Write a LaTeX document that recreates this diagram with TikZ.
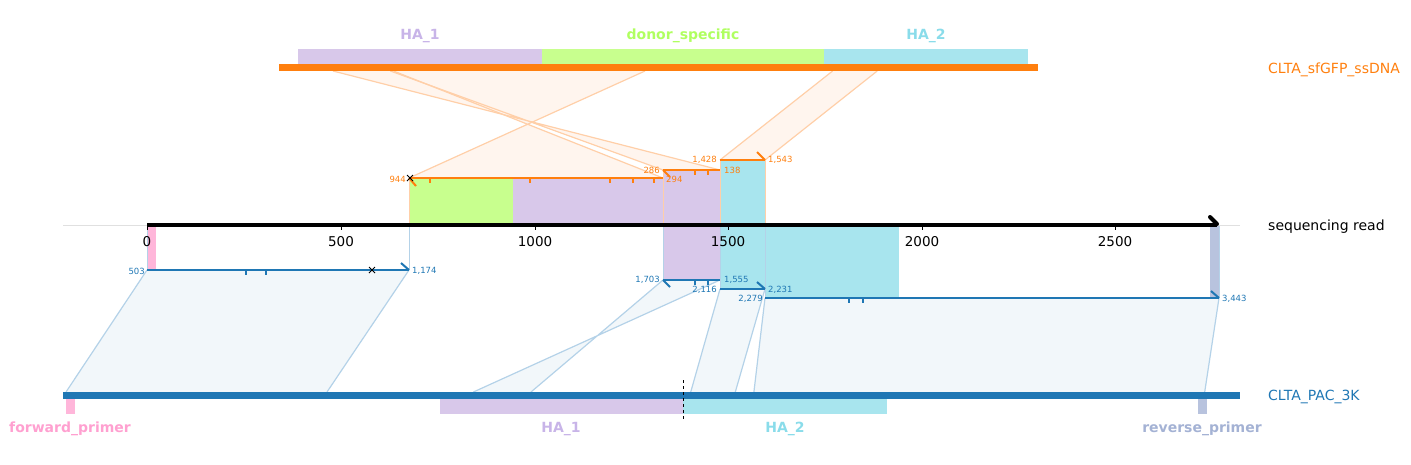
\documentclass[tikz,border=0pt]{standalone}
\usepackage{fontspec}
\setmainfont{DejaVu Sans}
\definecolor{orng}{HTML}{FF7F0E}
\definecolor{blu}{HTML}{1F77B4}
\definecolor{haone}{HTML}{D8C8EA}
\definecolor{haonet}{HTML}{C8B4E8}
\definecolor{donor}{HTML}{C8FF8E}
\definecolor{donort}{HTML}{B0FF60}
\definecolor{hatwo}{HTML}{A8E5EE}
\definecolor{hatwot}{HTML}{8ADCEA}
\definecolor{fwd}{HTML}{FFB6DA}
\definecolor{fwdt}{HTML}{FFA0D0}
\definecolor{rev}{HTML}{B8C3DE}
\definecolor{revt}{HTML}{A4B2D4}
\definecolor{opoly}{HTML}{FFF5EE}
\definecolor{oedge}{HTML}{FFCFA8}
\definecolor{bpoly}{HTML}{F2F7FA}
\definecolor{bedge}{HTML}{B4D2E8}
\begin{document}
\begin{tikzpicture}[x=1pt,y=-1pt,
  oaln/.style={draw=orng,line width=2pt},
  baln/.style={draw=blu,line width=2pt},
  otick/.style={draw=orng,line width=1.5pt},
  btick/.style={draw=blu,line width=1.5pt},
  smalllab/.style={font=\fontsize{8.5}{8.5}\selectfont,inner sep=0pt},
  featlab/.style={font=\bfseries\fontsize{14}{14}\selectfont,inner sep=0pt},
  ticklab/.style={font=\fontsize{13.5}{13.5}\selectfont,inner sep=0pt},
  sidelab/.style={font=\fontsize{14}{14}\selectfont,inner sep=0pt,anchor=west},
  xmark/.style={draw=black,line width=1pt}
]
\useasboundingbox (0,0) rectangle (1411,464);
% ---- connection polygons (ssDNA) ----
\fill[opoly] (393.5,71) -- (645,71) -- (409,178) -- (663,178) -- cycle;
\fill[opoly] (333,71) -- (390.4,71) -- (663,170) -- (720,170) -- cycle;
\fill[opoly] (832.6,71) -- (877.2,71) -- (765,160) -- (720,160) -- cycle;
\draw[oedge,line width=1.2pt] (645,71) -- (409,178) (393.5,71) -- (663,178);
\draw[oedge,line width=1.2pt] (390.4,71) -- (663,170) (333,71) -- (720,170);
\draw[oedge,line width=1.2pt] (832.6,71) -- (720,160) (877.2,71) -- (765,160);
% ---- connection polygons (PAC) ----
\fill[bpoly] (147,270) -- (409,270) -- (327,392) -- (66,392) -- cycle;
\fill[bpoly] (663,280) -- (720,280) -- (473.4,392) -- (531,392) -- cycle;
\fill[bpoly] (720,289) -- (765,289) -- (735.3,392) -- (690.7,392) -- cycle;
\fill[bpoly] (765,298) -- (1219,298) -- (1204.7,392) -- (753.9,392) -- cycle;
\draw[bedge,line width=1.2pt] (147,270) -- (66,392) (409,270) -- (327,392);
\draw[bedge,line width=1.2pt] (663,280) -- (531,392) (720,280) -- (473.4,392);
\draw[bedge,line width=1.2pt] (720,289) -- (690.7,392) (765,289) -- (735.3,392);
\draw[bedge,line width=1.2pt] (765,298) -- (753.9,392) (1219,298) -- (1204.7,392);
% ---- feature fills on the read ----
\fill[donor] (409,178) rectangle (513,225);
\fill[haone] (513,178) rectangle (663,225);
\fill[haone] (663,170) rectangle (720,225);
\fill[hatwo] (720,160) rectangle (765,225);
\fill[fwd] (147,225) rectangle (156,270);
\fill[haone] (663,225) rectangle (720,280);
\fill[hatwo] (720,225) rectangle (765,289);
\fill[hatwo] (765,225) rectangle (899,298);
\fill[rev] (1210,225) rectangle (1219,298);
% faint edges of aligned spans
\draw[oedge,line width=0.8pt] (409,178) -- (409,225) (663,170) -- (663,225) (720,160) -- (720,225) (765,160) -- (765,225);
\draw[bedge,line width=0.8pt] (147,225) -- (147,270) (409,225) -- (409,270) (663,225) -- (663,280) (720,225) -- (720,289) (765,225) -- (765,298) (1219,225) -- (1219,298);
% ---- ssDNA reference ----
\fill[haone] (298,49) rectangle (542,64);
\fill[donor] (542,49) rectangle (824,64);
\fill[hatwo] (824,49) rectangle (1028,64);
\fill[orng] (279,64) rectangle (1038,71);
\node[featlab,text=haonet] (lHAa) at (420,36) {HA\_1};
\node[featlab,text=donort] (ldonor) at (683,36) {donor\_specific};
\node[featlab,text=hatwot] (lHAb) at (926,36) {HA\_2};
% ---- PAC reference ----
\fill[blu] (63,392) rectangle (1240,399);
\fill[fwd] (66,399) rectangle (75,414);
\fill[haone] (440,399) rectangle (683,414);
\fill[hatwo] (683,399) rectangle (887,414);
\fill[rev] (1198,399) rectangle (1207,414);
\draw[black,dashed,line width=1pt] (683,380) -- (683,419);
\node[featlab,text=fwdt] (lfwd) at (70,429) {forward\_primer};
\node[featlab,text=haonet] (lHAc) at (561,429) {HA\_1};
\node[featlab,text=hatwot] (lHAd) at (785,429) {HA\_2};
\node[featlab,text=revt] (lrev) at (1202,429) {reverse\_primer};
% ---- read axis ----
\draw[black!12,line width=0.8pt] (63,225) -- (1240,225);
\draw[black,line width=4pt] (147,225) -- (1217,225);
\draw[black,line width=4pt,line cap=round] (1210,217) -- (1217,224);
\foreach \x/\t in {147/0,341/500,535/1000,728/1500,922/2000,1115/2500}{
  \draw[black,line width=1pt] (\x,225) -- (\x,230);
  \node[ticklab] (tk\t) at (\x,241.5) {\t};
}
% ---- orange alignments ----
\draw[oaln] (409,178) -- (663,178);
\draw[oaln] (409,178) -- (416,186);
\foreach \x in {430,530,610,633,654} \draw[otick] (\x,178) -- (\x,183);
\draw[xmark] (407,175) -- (413,181) (407,181) -- (413,175);
\node[smalllab,text=orng,anchor=east] (a944) at (406,179) {944};
\node[smalllab,text=orng,anchor=west] (a294) at (666,179) {294};
\draw[oaln] (663,170) -- (720,170);
\draw[oaln] (663,170) -- (670,177);
\foreach \x in {695,708} \draw[otick] (\x,170) -- (\x,175);
\node[smalllab,text=orng,anchor=east] (a286) at (660,170) {286};
\node[smalllab,text=orng,anchor=west] (a138) at (724,170) {138};
\draw[oaln] (720,160) -- (765,160);
\draw[oaln] (765,160) -- (757,152);
\node[smalllab,text=orng,anchor=east] (a1428) at (717,160) {1,428};
\node[smalllab,text=orng,anchor=west] (a1543) at (768,160) {1,543};
% ---- blue alignments ----
\draw[baln] (147,270) -- (409,270);
\draw[baln] (409,270) -- (401,263);
\foreach \x in {246,266} \draw[btick] (\x,270) -- (\x,275);
\draw[xmark] (369,267) -- (375,273) (369,273) -- (375,267);
\node[smalllab,text=blu,anchor=east] (b503) at (145,271) {503};
\node[smalllab,text=blu,anchor=west] (b1174) at (412,271) {1,174};
\draw[baln] (663,280) -- (720,280);
\draw[baln] (663,280) -- (670,287);
\foreach \x in {695,708} \draw[btick] (\x,280) -- (\x,285);
\node[smalllab,text=blu,anchor=east] (b1703) at (660,280) {1,703};
\node[smalllab,text=blu,anchor=west] (b1555) at (724,280) {1,555};
\draw[baln] (720,289) -- (765,289);
\draw[baln] (765,289) -- (757,282);
\node[smalllab,text=blu,anchor=east] (b2116) at (717,290) {2,116};
\node[smalllab,text=blu,anchor=west] (b2231) at (768,290) {2,231};
\draw[baln] (765,298) -- (1219,298);
\draw[baln] (1219,298) -- (1211,291);
\foreach \x in {849,863} \draw[btick] (\x,298) -- (\x,303);
\node[smalllab,text=blu,anchor=east] (b2279) at (763,299) {2,279};
\node[smalllab,text=blu,anchor=west] (b3443) at (1222,299) {3,443};
% ---- side labels ----
\node[sidelab,text=orng] (nss) at (1268,69.5) {CLTA\_sfGFP\_ssDNA};
\node[sidelab,text=black] (nread) at (1268,226.5) {sequencing read};
\node[sidelab,text=blu] (npac) at (1268,396.5) {CLTA\_PAC\_3K};
\end{tikzpicture}
\end{document}
